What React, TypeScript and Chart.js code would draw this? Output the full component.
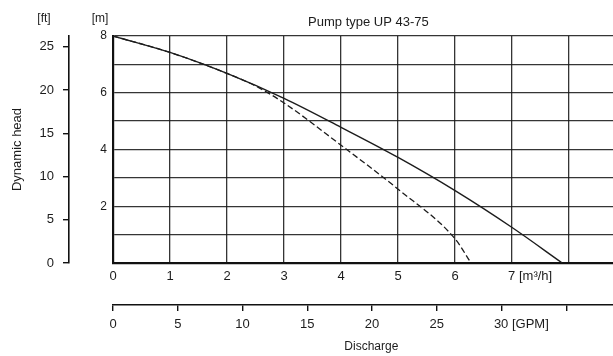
import React, { useEffect, useRef } from 'react';
import { Chart, registerables } from 'chart.js';

Chart.register(...registerables);

// ---- data ----
const flowSolid = [0, 1, 2, 3, 4, 5, 6, 7, 7.88];
const headSolid = [8, 7.42, 6.68, 5.8, 4.78, 3.72, 2.55, 1.25, 0];
const flowDashed = [0, 1, 2, 2.5, 3, 4, 5, 6, 6.28];
const headDashed = [8, 7.42, 6.68, 6.24, 5.64, 4.15, 2.6, 0.85, 0];

const m3hTickLabels = ['0', '1', '2', '3', '4', '5', '6', '7'];
const m3hUnit = '[m³/h]';
const gpmTickLabels = ['0', '5', '10', '15', '20', '25', '30'];
const gpmUnit = '[GPM]';
const ftTickLabels = ['0', '5', '10', '15', '20', '25'];
const mTickLabels = ['2', '4', '6', '8'];

const chartTitle = 'Pump type UP 43-75';
const headTitle = 'Dynamic head';
const dischargeTitle = 'Discharge';
const ftUnit = '[ft]';
const mUnit = '[m]';

const M3H_PER_GPM = 0.227125;
const M_PER_FT = 0.3048;
const X_MAX = 8.77;
const Y_MAX = 8;

const FONT = '"Liberation Sans", Arial, Helvetica, sans-serif';
const INK = '#1c1c1c';
const GRID = 'rgba(25,25,25,0.88)';

const unitLabels = {
  id: 'unitLabels',
  afterDraw(chart: any) {
    const ctx = chart.ctx;
    const ft = chart.scales.yft;
    const m = chart.scales.y;
    const top = chart.chartArea.top;
    ctx.save();
    ctx.font = `12px ${FONT}`;
    ctx.fillStyle = INK;
    ctx.textAlign = 'center';
    ctx.textBaseline = 'middle';
    ctx.fillText(ftUnit, ft.right - 25, top - 17);
    ctx.fillText(mUnit, m.right - 13, top - 17);
    ctx.restore();
  },
};

export default function App() {
  const ref = useRef<HTMLCanvasElement>(null);

  useEffect(() => {
    if (!ref.current) return;
    Chart.defaults.font.family = FONT;
    Chart.defaults.color = INK;

    const pad = (n: number) => ' '.repeat(n);

    const chart = new Chart(ref.current, {
      type: 'line',
      data: {
        datasets: [
          {
            label: 'curve',
            data: flowSolid.map((x, i) => ({ x, y: headSolid[i] })),
            borderColor: INK,
            borderWidth: 1.4,
            pointRadius: 0,
            cubicInterpolationMode: 'monotone',
            xAxisID: 'x',
            yAxisID: 'y',
          },
          {
            label: 'dashed',
            data: flowDashed.map((x, i) => ({ x, y: headDashed[i] })),
            borderColor: INK,
            borderWidth: 1.3,
            borderDash: [6, 3],
            pointRadius: 0,
            cubicInterpolationMode: 'monotone',
            xAxisID: 'x',
            yAxisID: 'y',
          },
        ],
      },
      options: {
        animation: false,
        responsive: false,
        devicePixelRatio: 1,
        layout: { padding: 0 },
        plugins: {
          legend: { display: false },
          tooltip: { enabled: false },
          title: { display: false },
        },
        scales: {
          x: {
            type: 'linear',
            position: 'bottom',
            weight: 0,
            min: 0,
            max: X_MAX,
            afterFit: (s: any) => { s.height = 42; },
            ticks: {
              stepSize: 1,
              includeBounds: false,
              autoSkip: false,
              maxRotation: 0,
              padding: 6,
              font: { size: 13 },
              color: INK,
              callback: (v: any) => {
                const i = Number(v);
                if (i === m3hTickLabels.length - 1) return pad(10) + m3hTickLabels[i] + ' ' + m3hUnit;
                return i < m3hTickLabels.length ? m3hTickLabels[i] : '';
              },
            },
            grid: { color: GRID, lineWidth: 1.3, drawTicks: false },
            border: { color: '#111', width: 2.2 },
          },
          gpm: {
            type: 'linear',
            position: 'bottom',
            weight: 1,
            min: 0,
            max: X_MAX / M3H_PER_GPM,
            afterFit: (s: any) => { s.height = 51; },
            ticks: {
              stepSize: 5,
              includeBounds: false,
              autoSkip: false,
              maxRotation: 0,
              padding: 6,
              font: { size: 13 },
              color: INK,
              callback: (v: any) => {
                const i = Math.round(Number(v) / 5);
                if (i === gpmTickLabels.length - 1) return pad(11) + gpmTickLabels[i] + ' ' + gpmUnit;
                return i < gpmTickLabels.length ? gpmTickLabels[i] : '';
              },
            },
            grid: { drawOnChartArea: false, drawTicks: true, tickLength: 6, color: '#111', lineWidth: 1.4 },
            border: { color: '#111', width: 1.6 },
            title: {
              display: true,
              text: pad(5) + dischargeTitle,
              font: { size: 12 },
              color: INK,
              padding: { top: 0, bottom: 2 },
            },
          },
          top: {
            type: 'linear',
            position: 'top',
            min: 0,
            max: X_MAX,
            afterFit: (s: any) => { s.height = 36; },
            ticks: { display: false },
            grid: { display: false },
            border: { display: false },
            title: {
              display: true,
              text: pad(3) + chartTitle,
              font: { size: 13 },
              color: INK,
              padding: { top: 15, bottom: 0 },
            },
          },
          y: {
            type: 'linear',
            position: 'left',
            weight: 0,
            min: 0,
            max: Y_MAX,
            afterFit: (s: any) => { s.width = 44; },
            ticks: {
              stepSize: 1,
              autoSkip: false,
              padding: 6,
              font: { size: 12 },
              color: INK,
              callback: (v: any) => {
                const s = String(v);
                return mTickLabels.includes(s) ? s : '';
              },
            },
            grid: { color: GRID, lineWidth: 1.3, drawTicks: false },
            border: { color: '#111', width: 2.2 },
          },
          yft: {
            type: 'linear',
            position: 'left',
            weight: 1,
            min: 0,
            max: Y_MAX / M_PER_FT,
            afterFit: (s: any) => { s.width = 69; },
            ticks: {
              stepSize: 5,
              includeBounds: false,
              autoSkip: false,
              padding: 9,
              font: { size: 13 },
              color: INK,
              callback: (v: any) => {
                const s = String(v);
                return ftTickLabels.includes(s) ? s : '';
              },
            },
            grid: { drawOnChartArea: false, drawTicks: true, tickLength: 6, color: '#111', lineWidth: 1.4 },
            border: { color: '#111', width: 1.6 },
            title: {
              display: true,
              text: headTitle,
              font: { size: 13 },
              color: INK,
              padding: { top: 10, bottom: 0 },
            },
          },
        },
      } as any,
      plugins: [unitLabels],
    });

    return () => chart.destroy();
  }, []);

  return (
    <div style={{ position: 'fixed', left: 0, top: 0, width: 613, height: 356, background: '#fff' }}>
      <canvas ref={ref} width={613} height={356} style={{ display: 'block' }} />
    </div>
  );
}
